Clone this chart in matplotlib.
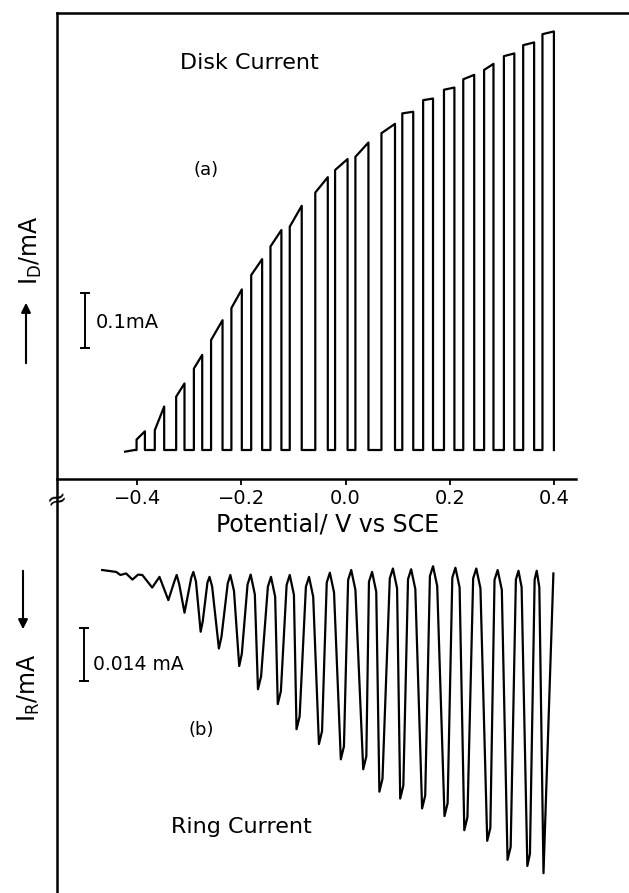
import matplotlib.pyplot as plt

plt.rcParams['font.family'] = 'DejaVu Sans'
plt.rcParams['mathtext.fontset'] = 'dejavusans'

# (a) disk current: square pulses, potential in V, current in mA above baseline
lead_v = [-0.423, -0.405]
lead_i = [-0.003, 0.0]
pulse_on = [-0.401, -0.366, -0.325, -0.291, -0.258, -0.219, -0.181, -0.144, -0.107, -0.058, -0.020,
            0.019, 0.069, 0.109, 0.149, 0.189, 0.226, 0.266, 0.304, 0.341, 0.378]
pulse_off = [-0.385, -0.348, -0.309, -0.275, -0.236, -0.199, -0.160, -0.123, -0.084, -0.034, 0.004,
             0.044, 0.095, 0.130, 0.168, 0.209, 0.247, 0.284, 0.324, 0.362, 0.400]
pulse_start = [0.019, 0.036, 0.097, 0.148, 0.200, 0.258, 0.318, 0.370, 0.406, 0.468, 0.509,
               0.533, 0.576, 0.612, 0.636, 0.655, 0.674, 0.691, 0.716, 0.736, 0.756]
pulse_end = [0.034, 0.079, 0.121, 0.173, 0.236, 0.292, 0.347, 0.400, 0.444, 0.496, 0.529,
             0.559, 0.593, 0.615, 0.639, 0.659, 0.682, 0.702, 0.721, 0.741, 0.761]

# (b) ring current trace read point by point, current in mA (downward positive)
ring_v = [-0.467, -0.440, -0.432, -0.421, -0.409, -0.398, -0.390, -0.371, -0.357, -0.340,
          -0.328, -0.324, -0.319, -0.309,
          -0.296, -0.292, -0.287, -0.278, -0.274,
          -0.265, -0.261, -0.256, -0.243, -0.238,
          -0.226, -0.221, -0.214, -0.204, -0.199,
          -0.188, -0.182, -0.174, -0.168, -0.162,
          -0.149, -0.143, -0.135, -0.130, -0.124,
          -0.113, -0.107, -0.099, -0.094, -0.088,
          -0.076, -0.070, -0.062, -0.051, -0.045,
          -0.036, -0.030, -0.022, -0.009, -0.003,
          0.005, 0.011, 0.019, 0.034, 0.040,
          0.045, 0.051, 0.059, 0.065, 0.071,
          0.085, 0.091, 0.099, 0.105, 0.111,
          0.120, 0.126, 0.134, 0.147, 0.153,
          0.162, 0.168, 0.176, 0.190, 0.196,
          0.205, 0.211, 0.219, 0.228, 0.234,
          0.245, 0.251, 0.259, 0.272, 0.278,
          0.286, 0.292, 0.300, 0.311, 0.317,
          0.327, 0.332, 0.338, 0.349, 0.354,
          0.363, 0.367, 0.372, 0.380,
          0.399]
ring_i = [0.0005, 0.0010, 0.0018, 0.0014, 0.0030, 0.0017, 0.0018, 0.0051, 0.0023, 0.0084,
          0.0033, 0.0018, 0.0043, 0.0117,
          0.0025, 0.0010, 0.0035, 0.0167, 0.0140,
          0.0038, 0.0023, 0.0048, 0.0211, 0.0180,
          0.0040, 0.0018, 0.0060, 0.0257, 0.0225,
          0.0043, 0.0017, 0.0069, 0.0318, 0.0284,
          0.0049, 0.0023, 0.0075, 0.0357, 0.0323,
          0.0044, 0.0018, 0.0070, 0.0423, 0.0389,
          0.0049, 0.0023, 0.0075, 0.0462, 0.0428,
          0.0038, 0.0012, 0.0064, 0.0502, 0.0468,
          0.0031, 0.0005, 0.0057, 0.0528, 0.0494,
          0.0036, 0.0010, 0.0062, 0.0587, 0.0553,
          0.0027, 0.0001, 0.0053, 0.0605, 0.0571,
          0.0029, 0.0003, 0.0055, 0.0631, 0.0597,
          0.0021, -0.0005, 0.0047, 0.0651, 0.0617,
          0.0025, -0.0001, 0.0051, 0.0688, 0.0654,
          0.0027, 0.0001, 0.0053, 0.0716, 0.0682,
          0.0031, 0.0005, 0.0057, 0.0766, 0.0732,
          0.0030, 0.0007, 0.0050, 0.0782, 0.0750,
          0.0030, 0.0007, 0.0050, 0.0801,
          0.0014]

ticks = [-0.4, -0.2, 0.0, 0.2, 0.4]
tick_labels = ['\u22120.4', '\u22120.2', '0.0', '0.2', '0.4']

W, H = 629, 893


def fx(x):
    return x / W


def fy(y):
    return 1 - y / H


fig = plt.figure(figsize=(6.29, 8.93), dpi=100)
ax1 = fig.add_axes([fx(57), fy(479), 1 - fx(57), fy(13) - fy(479)])
ax2 = fig.add_axes([fx(57), 0, 1 - fx(57), fy(479)])
ax2.patch.set_visible(False)
xlim = (-0.5537, 0.5441)

# build the pulse train from the pulse tables
dx = list(lead_v)
dy = list(lead_i)
for on, off, a, b in zip(pulse_on, pulse_off, pulse_start, pulse_end):
    dx += [on, on, off, off]
    dy += [0.0, a, b, 0.0]
ax1.plot(dx, dy, color='black', lw=1.6, solid_joinstyle='round')

# 0.1 mA scale bar
ax1.plot([-0.500, -0.500], [0.1855, 0.2855], color='black', lw=1.4)
for yb in (0.1855, 0.2855):
    ax1.plot([-0.508, -0.492], [yb, yb], color='black', lw=1.4)

ax1.set_xlim(xlim)
ax1.set_ylim(-0.0527, 0.7945)
ax1.spines['right'].set_visible(False)
for s in ('top', 'left', 'bottom'):
    ax1.spines[s].set_linewidth(1.8)
ax1.spines['bottom'].set_bounds(xlim[0], 0.442)
ax1.set_yticks([])
ax1.set_xticks(ticks)
ax1.set_xticklabels(tick_labels)
ax1.tick_params(axis='x', direction='out', length=4, width=1.3, labelsize=14, pad=3)

ax2.plot(ring_v, ring_i, color='black', lw=1.6, solid_joinstyle='round')
ax2.plot([-0.502, -0.502], [0.0157, 0.0297], color='black', lw=1.4)
for yb in (0.0157, 0.0297):
    ax2.plot([-0.510, -0.494], [yb, yb], color='black', lw=1.4)
ax2.set_xlim(xlim)
ax2.set_ylim(0.0853, -0.0234)
for s in ('top', 'right', 'bottom'):
    ax2.spines[s].set_visible(False)
ax2.spines['left'].set_linewidth(1.8)
ax2.set_xticks([])
ax2.set_yticks([])

# texts
fig.text(fx(249), fy(63), 'Disk Current', fontsize=16, ha='center', va='center')
fig.text(fx(206), fy(170), '(a)', fontsize=13, ha='center', va='center')
fig.text(fx(96), fy(323), '0.1mA', fontsize=14, ha='left', va='center')
fig.text(fx(328), fy(524), 'Potential/ V vs SCE', fontsize=17, ha='center', va='center')
fig.text(fx(93), fy(664), '0.014 mA', fontsize=13.5, ha='left', va='center')
fig.text(fx(201), fy(730), '(b)', fontsize=13, ha='center', va='center')
fig.text(fx(241), fy(827), 'Ring Current', fontsize=16, ha='center', va='center')
fig.text(fx(31), fy(250), r'$\mathrm{I_D}$/mA', fontsize=17, rotation=90, ha='center', va='center')
fig.text(fx(29), fy(688), r'$\mathrm{I_R}$/mA', fontsize=17, rotation=90, ha='center', va='center')
fig.text(fx(57), fy(500), '\u2248', fontsize=18, rotation=20, ha='center', va='center')

ax1.annotate('', xy=(fx(26), fy(300)), xytext=(fx(26), fy(366)), xycoords='figure fraction',
             arrowprops=dict(arrowstyle='-|>', lw=1.5, color='black', mutation_scale=14))
ax2.annotate('', xy=(fx(23), fy(632)), xytext=(fx(23), fy(568)), xycoords='figure fraction',
             arrowprops=dict(arrowstyle='-|>', lw=1.5, color='black', mutation_scale=14))

fig.savefig('out.png', dpi=100)
